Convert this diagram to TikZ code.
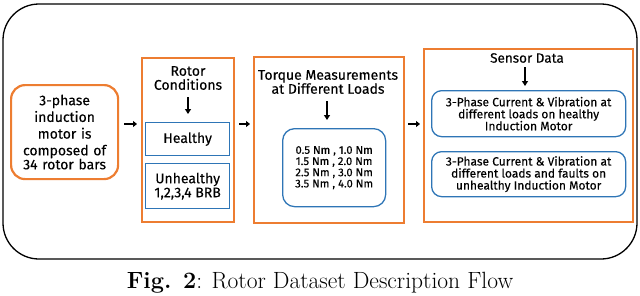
\documentclass[tikz,border=0pt]{standalone}
\usepackage{fontspec}
\setsansfont{Fira Sans}[FakeBold=0.2]
\usetikzlibrary{arrows.meta}
\definecolor{orng}{HTML}{ED7D31}
\definecolor{blu}{HTML}{2E75B6}
\tikzset{
  obox/.style={draw=orng, line width=2.2pt},
  bbox/.style={draw=blu, line width=1.3pt},
  txt/.style={font=\sffamily\fontsize{#1}{#1}\selectfont, align=center, inner sep=0pt},
  harrow/.style={-{Triangle[length=4pt,width=6pt]}, line width=2.4pt, black},
  varrow/.style={-{Triangle[length=5pt,width=6pt]}, line width=1.6pt, black},
}
\begin{document}
\begin{tikzpicture}[x=1pt,y=-1pt]
\useasboundingbox (0,0) rectangle (640,295);
% outer frame
\draw[line width=1.3pt, rounded corners=36pt] (3,4) rectangle (637,259);
% box 1
\node[obox, rounded corners=14pt, minimum width=107pt, minimum height=94pt, anchor=north west] (b1) at (10,84) {};
\node[txt=14, text width=100pt, align=center] (t1) at (b1.center) {\baselineskip=16.7pt 3-phase\\induction\\motor is\\composed of\\34 rotor bars};
% box 2
\node[obox, minimum width=92pt, minimum height=164pt, anchor=north west] (b2) at (141,57) {};
\node[txt=14] (t2) at (188,78) {\baselineskip=17pt Rotor\\Conditions};
\coordinate (a2s) at (188,97);
\coordinate (a2e) at (188,114);
\node[bbox, minimum width=84pt, minimum height=33pt, anchor=north west] (h) at (145,122) {};
\node[txt=14] at (h.center) {Healthy};
\node[bbox, minimum width=84pt, minimum height=45pt, anchor=north west] (u) at (145,163) {};
\node[txt=14] at (u.center) {\baselineskip=16pt Unhealthy\\1,2,3,4 BRB};
% box 3
\node[obox, minimum width=150pt, minimum height=166pt, anchor=north west] (b3) at (253,56) {};
\node[txt=14] (t3) at (328,82) {\baselineskip=18pt Torque Measurements\\at Different Loads};
\coordinate (a3s) at (327,101);
\coordinate (a3e) at (327,120);
\node[bbox, rounded corners=12pt, minimum width=103pt, minimum height=78pt, anchor=north west] (tm) at (282,128) {};
\node[txt=11.2] at (tm.center) {\baselineskip=14pt 0.5 Nm , 1.0 Nm\\1.5 Nm , 2.0 Nm\\2.5 Nm , 3.0 Nm\\3.5 Nm , 4.0 Nm};
% box 4
\node[obox, minimum width=209pt, minimum height=173pt, anchor=north west] (b4) at (423,48) {};
\node[txt=13.5] (t4) at (527,58) {Sensor Data};
\coordinate (a4s) at (525,67);
\coordinate (a4e) at (525,86);
\node[bbox, rounded corners=10pt, minimum width=194pt, minimum height=46pt, anchor=north west] (s1) at (431,90) {};
\node[txt=12] at (s1.center) {\baselineskip=14.5pt 3-Phase Current \& Vibration at\\different loads on healthy\\Induction Motor};
\node[bbox, rounded corners=10pt, minimum width=194pt, minimum height=45pt, anchor=north west] (s2) at (431,151) {};
\node[txt=12] at (s2.center) {\baselineskip=14.5pt 3-Phase Current \& Vibration at\\different loads and faults on\\unhealthy Induction Motor};
% arrows
\draw[varrow] (a2s) -- (a2e);
\draw[varrow] (a3s) -- (a3e);
\draw[varrow] (a4s) -- (a4e);
\draw[harrow] ([xshift=5pt]b1.east |- 0,124) -- ([xshift=-4pt]b2.west |- 0,124);
\draw[harrow] ([xshift=4pt]b2.east |- 0,124) -- ([xshift=-3pt]b3.west |- 0,124);
\draw[harrow] ([xshift=3pt]b3.east |- 0,124) -- ([xshift=-3pt]b4.west |- 0,124);
% caption
\node[font=\fontsize{23.5}{26}\selectfont, anchor=base, inner sep=0pt] (cap) at (320,288.5) {\textbf{Fig. 2}: Rotor Dataset Description Flow};
\end{tikzpicture}
\end{document}
